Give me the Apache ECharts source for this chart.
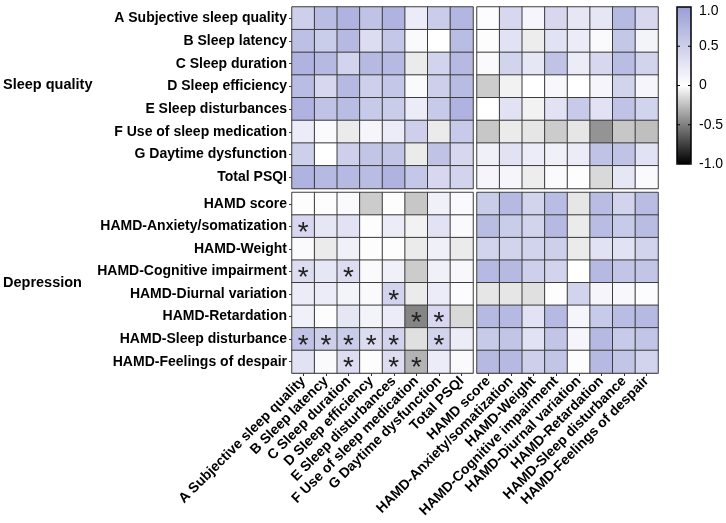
<!DOCTYPE html>
<html><head><meta charset="utf-8">
<script src="https://cdn.jsdelivr.net/npm/echarts@6/dist/echarts.min.js"></script>
<style>html,body{margin:0;padding:0;background:#fff}#c{width:726px;height:523px}</style>
</head><body><div id="c"></div>
<script>
const categories = [
  'A Subjective sleep quality','B Sleep latency','C Sleep duration','D Sleep efficiency',
  'E Sleep disturbances','F Use of sleep medication','G Daytime dysfunction','Total PSQI',
  'HAMD score','HAMD-Anxiety/somatization','HAMD-Weight','HAMD-Cognitive impairment',
  'HAMD-Diurnal variation','HAMD-Retardation','HAMD-Sleep disturbance','HAMD-Feelings of despair'
];
const groupLabels = ['Sleep quality', 'Depression'];
// correlation values, one array per row (columns in category order)
const rowA     = [0.5,0.68,0.78,0.62,0.78,0.2,0.52,0.75,  0.03,0.4,0.1,0.4,0.25,0.25,0.72,0.4];
const rowB     = [0.65,0.52,0.72,0.35,0.58,0.05,0.0,0.68,  0.02,0.3,-0.07,0.3,0.2,0.05,0.58,0.12];
const rowC     = [0.78,0.72,0.45,0.72,0.72,-0.08,0.45,0.72,  0.05,0.45,0.25,0.62,0.2,0.4,0.68,0.45];
const rowD     = [0.68,0.4,0.72,0.5,0.58,0.05,0.5,0.7,  -0.2,-0.05,0.0,0.08,0.0,0.1,0.45,0.1];
const rowE     = [0.78,0.62,0.68,0.55,0.52,0.2,0.55,0.78,  0.0,0.3,-0.05,0.3,0.55,0.3,0.62,0.45];
const rowF     = [0.2,0.05,-0.08,0.1,0.2,0.5,-0.08,0.55,  -0.22,-0.08,-0.1,-0.2,-0.1,-0.42,-0.22,-0.25];
const rowG     = [0.5,0.0,0.5,0.6,0.6,-0.08,0.62,0.4,  0.15,0.3,0.2,0.15,0.2,0.62,0.62,0.3];
const rowTotal = [0.78,0.72,0.72,0.68,0.78,0.58,0.4,0.45,  0.1,0.1,-0.07,0.05,0.02,-0.15,0.25,0.05];
const rowScore = [0.02,0.02,0.05,-0.2,0.02,-0.22,0.15,0.05,  0.52,0.72,0.45,0.68,-0.1,0.68,0.45,0.68];
const rowAnx   = [0.4,0.25,0.3,0.02,0.2,-0.05,0.3,0.05,  0.68,0.52,0.45,0.72,-0.08,0.68,0.55,0.68];
const rowWt    = [0.05,-0.08,0.15,0.02,0.02,-0.08,0.15,-0.08,  0.45,0.45,0.45,0.5,-0.08,0.3,0.3,0.45];
const rowCog   = [0.35,0.25,0.35,0.05,0.15,-0.2,0.15,0.08,  0.72,0.72,0.5,0.45,0.0,0.72,0.6,0.6];
const rowDiu   = [0.2,0.2,0.12,0.05,0.45,-0.08,0.2,0.03,  -0.1,-0.1,-0.12,0.02,0.45,0.1,0.08,0.03];
const rowRet   = [0.15,0.02,0.25,0.12,0.2,-0.48,0.4,-0.15,  0.72,0.72,0.3,0.72,0.1,0.55,0.68,0.72];
const rowSlp   = [0.62,0.5,0.52,0.35,0.45,-0.12,0.45,0.2,  0.55,0.6,0.3,0.6,0.1,0.72,0.55,0.6];
const rowDes   = [0.3,0.05,0.35,0.02,0.35,-0.3,0.2,0.05,  0.72,0.72,0.5,0.6,0.02,0.72,0.6,0.45];
const rows = [rowA,rowB,rowC,rowD,rowE,rowF,rowG,rowTotal,rowScore,rowAnx,rowWt,rowCog,rowDiu,rowRet,rowSlp,rowDes];
// significant cells [row, col]
const significant = [[9,0],[11,0],[11,2],[12,4],[13,5],[13,6],[14,0],[14,1],[14,2],[14,3],[14,4],[14,6],[15,2],[15,4],[15,5]];
const scaleTicks = ['1.0','0.5','0','-0.5','-1.0'];

const FONT = '"Liberation Sans", Arial, Helvetica, sans-serif';
const sigSet = new Set(significant.map(p => p[0] + '_' + p[1]));
const chart = echarts.init(document.getElementById('c'), null, {renderer:'canvas'});

const gridDefs = [
  {left:292, top:7, width:181, height:181.5, r0:0, c0:0},
  {left:477, top:7, width:181, height:181.5, r0:0, c0:8},
  {left:292, top:192.5, width:181, height:180.5, r0:8, c0:0},
  {left:477, top:192.5, width:181, height:180.5, r0:8, c0:8}
];
const grids = [], xAxes = [], yAxes = [], series = [];
gridDefs.forEach((g, i) => {
  grids.push({left:g.left, top:g.top, width:g.width, height:g.height});
  const bottomRow = g.r0 === 8, leftCol = g.c0 === 0;
  xAxes.push({
    type:'category', gridIndex:i, data:categories.slice(g.c0, g.c0+8), position:'bottom',
    axisLine:{show:true, lineStyle:{color:'#999'}},
    axisTick:{show:bottomRow, length:3, alignWithLabel:true, lineStyle:{color:'#333'}},
    axisLabel:{show:bottomRow, rotate:45, interval:0, margin:6, color:'#000', fontFamily:FONT, fontWeight:'bold', fontSize:14},
    splitLine:{show:false}
  });
  yAxes.push({
    type:'category', gridIndex:i, data:categories.slice(g.r0, g.r0+8), inverse:true,
    axisLine:{show:true, lineStyle:{color:'#999'}},
    axisTick:{show:leftCol, length:3, alignWithLabel:true, lineStyle:{color:'#333'}},
    axisLabel:{show:leftCol, interval:0, margin:5, color:'#000', fontFamily:FONT, fontWeight:'bold', fontSize:14},
    splitLine:{show:false}
  });
  const data = [];
  for (let r = 0; r < 8; r++) for (let c = 0; c < 8; c++) {
    const R = g.r0 + r, C = g.c0 + c;
    data.push([c, r, rows[R][C], sigSet.has(R + '_' + C) ? 1 : 0]);
  }
  series.push({
    type:'heatmap', xAxisIndex:i, yAxisIndex:i, data:data,
    itemStyle:{borderColor:'#3c3c3c', borderWidth:1},
    label:{show:true, formatter:p => p.data[3] ? '*' : '', fontSize:28, color:'#222', fontFamily:FONT, offset:[0,7]},
    emphasis:{disabled:true}
  });
});

const barTop = 7, barH = 157, barLeft = 677, barW = 14;
const graphics = [
  {type:'text', left:3, top:77, style:{text:groupLabels[0], font:'bold 14.5px ' + FONT, fill:'#000'}},
  {type:'text', left:3, top:275, style:{text:groupLabels[1], font:'bold 14.5px ' + FONT, fill:'#000'}},
  {type:'rect', shape:{x:barLeft, y:barTop, width:barW, height:barH}, style:{fill:null, stroke:'#000', lineWidth:1.5}, z:100}
];
scaleTicks.forEach((t, i) => {
  const y = barTop + barH * i / (scaleTicks.length - 1);
  graphics.push({type:'text', x:699, y:y + (i === 0 ? 4 : 0), style:{text:t, font:'14px ' + FONT, fill:'#000', textVerticalAlign:'middle'}, z:100});
  if (i > 0 && i < scaleTicks.length - 1) {
    graphics.push({type:'line', shape:{x1:barLeft+barW-3, y1:y, x2:barLeft+barW, y2:y}, style:{stroke:'#000', lineWidth:1}, z:100});
    graphics.push({type:'line', shape:{x1:barLeft, y1:y, x2:barLeft+3, y2:y}, style:{stroke:'#000', lineWidth:1}, z:100});
  }
});

chart.setOption({
  animation:false,
  grid:grids, xAxis:xAxes, yAxis:yAxes, series:series,
  visualMap:{
    type:'continuous', min:-1, max:1, dimension:2, orient:'vertical', left:barLeft, top:barTop,
    itemWidth:barW, itemHeight:barH, padding:0, calculable:false, text:null,
    seriesIndex:[0,1,2,3],
    inRange:{color:['#000000','#ffffff','#9a9ed6']},
    textStyle:{color:'rgba(0,0,0,0)'}
  },
  graphic:graphics
});
</script></body></html>
